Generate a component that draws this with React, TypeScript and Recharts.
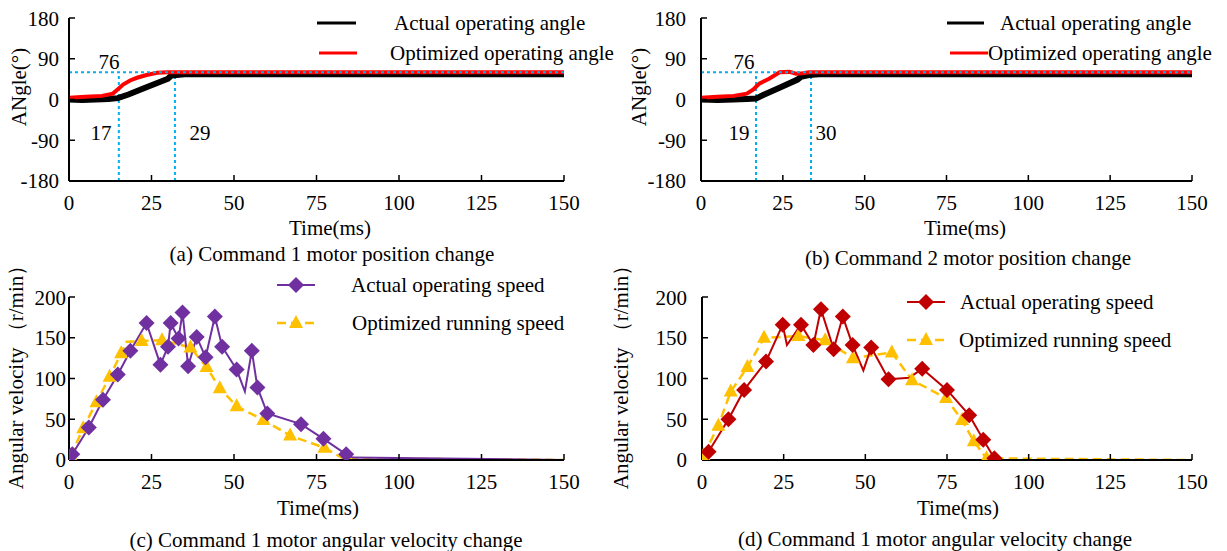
import React from "react";
import { Line, LineChart, ReferenceLine, XAxis, YAxis } from "recharts";

const timeTicks = [0, 25, 50, 75, 100, 125, 150];
const angleTicks = [-180, -90, 0, 90, 180];
const speedTicks = [0, 50, 100, 150, 200];

// (a) command 1 position
const aActualTime = [0, 4, 8, 12, 14.8, 18, 22.7, 30, 31, 35, 150];
const aActualAngle = [0, -1, 0, 1, 3, 11, 25, 46, 53, 56, 56];
const aOptTime = [0, 5, 10, 13.3, 15, 16.4, 18.5, 20.6, 23.5, 26.7, 30, 150];
const aOptAngle = [4, 6, 8, 13, 24, 33, 42, 48, 54, 59, 60, 60];
const aMarks = { level: 60, left: 15.1, right: 32.1, levelText: "76", leftText: "17", rightText: "29" };

// (b) command 2 position
const bActualTime = [0, 5, 10, 14, 16.8, 19, 24, 29.5, 30.5, 33, 36, 150];
const bActualAngle = [0, -1, 0, 1, 2, 10, 26, 44, 50, 54, 56, 56];
const bOptTime = [0, 5, 10, 14, 16, 17.8, 20.8, 24, 27, 29, 31, 33, 150];
const bOptAngle = [4, 6, 8, 13, 22, 35, 46, 60, 61, 57, 58, 60, 60];
const bMarks = { level: 60, left: 16.8, right: 33.6, levelText: "76", leftText: "19", rightText: "30" };

// (c) command 1 angular velocity
const cActualTime = [1, 6, 10.3, 14.8, 18.6, 23.5, 27.7, 30, 30.8, 33.2, 34.4, 36.1, 38.7, 41.4, 44.2, 46.4, 50.8, 53.3, 55.4, 57.1, 60.1, 70.3, 77.1, 84, 86, 150];
const cActualSpeed = [7, 40, 74, 105, 134, 168, 117, 139, 168, 149, 181, 115, 151, 126, 176, 139, 111, 84, 134, 89, 57, 44, 26, 7, 3, 0];
const cActualPlain = [53.3, 86, 150];
const cOptTime = [0.5, 4.3, 8.3, 12.3, 15.8, 17.5, 22, 28.2, 36.8, 41.7, 45.7, 50.8, 58.9, 67, 77.4, 83, 150];
const cOptSpeed = [5, 39, 71, 102, 131, 145, 146, 147, 138, 114, 88, 66, 49, 30, 15, 2, 0];
const cOptPlain = [17.5, 83, 150];

// (d) command 1 angular velocity
const dActualTime = [2, 8.1, 12.9, 19.6, 24.7, 26, 30.3, 34.1, 36.4, 40.3, 43.1, 46.1, 49.4, 51.8, 57.1, 63.5, 67.4, 75, 81.8, 86.1, 89.5, 92, 150];
const dActualSpeed = [10, 50, 86, 121, 166, 141, 166, 141, 185, 136, 176, 141, 110, 138, 99, 101, 112, 86, 55, 25, 2, 0, 0];
const dActualPlain = [26, 49.4, 63.5, 92, 150];
const dOptTime = [0.5, 5, 8.8, 13.9, 19, 29.5, 37.7, 46.2, 58.1, 64.3, 74.7, 79.6, 83.2, 87.1, 150];
const dOptSpeed = [6, 42, 84, 114, 150, 152, 147, 125, 132, 98, 76, 49, 23, 2, 0];
const dOptPlain = [150];

const FONT = "'Liberation Serif', 'Times New Roman', serif";
const BLUE = "#00B0F0";
const ORANGE = "#FFC000";

const pts = (t: number[], v: number[]) => t.map((x, i) => ({ t: x, v: v[i] }));

type Series = {
  data: { t: number; v: number }[];
  color: string;
  width: number;
  dash?: string;
  marker?: "diamond" | "triangle";
  plain?: number[];
};

function marker(kind: string, cx: number, cy: number, fill: string, key?: any) {
  if (kind === "diamond")
    return <polygon key={key} points={`${cx},${cy - 8} ${cx + 8},${cy} ${cx},${cy + 8} ${cx - 8},${cy}`} fill={fill} />;
  return <polygon key={key} points={`${cx},${cy - 8} ${cx + 7},${cy + 5} ${cx - 7},${cy + 5}`} fill={fill} />;
}

type Refs = { level: number; left: number; right: number; levelText: string; leftText: string; rightText: string };

function Panel(props: {
  x0: number; x1: number; yTop: number; yBottom: number;
  domain: [number, number]; yTicks: number[]; yGap: number;
  series: Series[]; refs?: Refs;
}) {
  const { x0, x1, yTop, yBottom, domain, yTicks, yGap, series, refs } = props;
  const ML = 70, MT = 12, MR = 16, MB = 46;
  const w = x1 - x0 + ML + MR;
  const h = yBottom - yTop + MT + MB;
  const tickFont = { fill: "#000", fontSize: 21, fontFamily: FONT };
  const all: Series[] = refs
    ? [...series, { data: pts([0, 150], [refs.level, refs.level]), color: BLUE, width: 2, dash: "3 3" }]
    : series;
  return (
    <div style={{ position: "absolute", left: x0 - ML, top: yTop - MT }}>
      <LineChart width={w} height={h} margin={{ left: 0, top: MT, right: MR, bottom: 0 }}>
        <XAxis
          type="number" dataKey="t" domain={[0, 150]} ticks={timeTicks} height={MB}
          axisLine={{ stroke: "#000", strokeWidth: 2 }} tickLine={{ stroke: "#000", strokeWidth: 1.5 }}
          tickSize={-6} tickMargin={20} tick={tickFont} allowDataOverflow
        />
        <YAxis
          type="number" domain={domain} ticks={yTicks} width={ML}
          axisLine={{ stroke: "#000", strokeWidth: 2 }} tickLine={{ stroke: "#000", strokeWidth: 1.5 }}
          tickSize={-6} tickMargin={6 + yGap} tick={tickFont} allowDataOverflow
        />
        {refs && (
          <ReferenceLine
            segment={[{ x: refs.left, y: domain[0] }, { x: refs.left, y: refs.level }]}
            stroke={BLUE} strokeWidth={2} strokeDasharray="3 3"
          />
        )}
        {refs && (
          <ReferenceLine
            segment={[{ x: refs.right, y: domain[0] }, { x: refs.right, y: refs.level }]}
            stroke={BLUE} strokeWidth={2} strokeDasharray="3 3"
          />
        )}
        {all.map((s, i) => (
          <Line
            key={i} data={s.data} dataKey="v" type="linear" stroke={s.color} strokeWidth={s.width}
            strokeDasharray={s.dash} isAnimationActive={false} legendType="none"
            dot={s.marker ? (p: any) => (s.plain && s.plain.includes(p.payload.t)
              ? <g key={p.index} />
              : marker(s.marker as string, p.cx, p.cy, s.color, p.index)) : false}
            activeDot={false}
          />
        ))}
      </LineChart>
    </div>
  );
}

function Txt({ x, y, children, rotate }: { x: number; y: number; children: React.ReactNode; rotate?: boolean }) {
  return (
    <div
      style={{
        position: "absolute", left: x, top: y, whiteSpace: "nowrap", lineHeight: 1, fontSize: 21,
        transform: `translate(-50%, -50%)${rotate ? " rotate(-90deg)" : ""}`,
      }}
    >
      {children}
    </div>
  );
}

function LegText({ x, y, children }: { x: number; y: number; children: React.ReactNode }) {
  return (
    <div style={{ position: "absolute", left: x, top: y, whiteSpace: "nowrap", lineHeight: 1, fontSize: 21, transform: "translateY(-50%)" }}>
      {children}
    </div>
  );
}

export default function App() {
  const angleA: Series[] = [
    { data: pts(aActualTime, aActualAngle), color: "#000", width: 6 },
    { data: pts(aOptTime, aOptAngle), color: "#FF0000", width: 4 },
  ];
  const angleB: Series[] = [
    { data: pts(bActualTime, bActualAngle), color: "#000", width: 6 },
    { data: pts(bOptTime, bOptAngle), color: "#FF0000", width: 4 },
  ];
  const speedC: Series[] = [
    { data: pts(cOptTime, cOptSpeed), color: ORANGE, width: 2.5, dash: "9 5", marker: "triangle", plain: cOptPlain },
    { data: pts(cActualTime, cActualSpeed), color: "#7030A0", width: 2, marker: "diamond", plain: cActualPlain },
  ];
  const speedD: Series[] = [
    { data: pts(dOptTime, dOptSpeed), color: ORANGE, width: 2.5, dash: "9 5", marker: "triangle", plain: dOptPlain },
    { data: pts(dActualTime, dActualSpeed), color: "#C00000", width: 2, marker: "diamond", plain: dActualPlain },
  ];

  return (
    <div style={{ position: "absolute", left: 0, top: 0, width: 1227, height: 551, background: "#fff", fontFamily: FONT, color: "#000", overflow: "hidden" }}>
      <Panel x0={69} x1={564} yTop={18} yBottom={181} domain={[-180, 180]} yTicks={angleTicks} yGap={10} series={angleA} refs={aMarks} />
      <Panel x0={701} x1={1192} yTop={18} yBottom={181} domain={[-180, 180]} yTicks={angleTicks} yGap={15} series={angleB} refs={bMarks} />
      <Panel x0={69} x1={564} yTop={297} yBottom={460} domain={[0, 200]} yTicks={speedTicks} yGap={3} series={speedC} />
      <Panel x0={702} x1={1192} yTop={297} yBottom={460} domain={[0, 200]} yTicks={speedTicks} yGap={15} series={speedD} />

      <svg width={1227} height={551} style={{ position: "absolute", left: 0, top: 0, pointerEvents: "none" }}>
        <line x1={317} y1={23} x2={356} y2={23} stroke="#000" strokeWidth={3} />
        <line x1={319} y1={53} x2={357} y2={53} stroke="#FF0000" strokeWidth={3} />
        <line x1={947} y1={23} x2={984} y2={23} stroke="#000" strokeWidth={3} />
        <line x1={950} y1={53} x2={988} y2={53} stroke="#FF0000" strokeWidth={3} />
        <line x1={277} y1={285} x2={315} y2={285} stroke="#7030A0" strokeWidth={2} />
        {marker("diamond", 296, 285, "#7030A0")}
        <line x1={277} y1={323} x2={315} y2={323} stroke={ORANGE} strokeWidth={2.5} strokeDasharray="9 5" />
        {marker("triangle", 296, 323, ORANGE)}
        <line x1={907} y1={302} x2={945} y2={302} stroke="#C00000" strokeWidth={2} />
        {marker("diamond", 926, 302, "#C00000")}
        <line x1={907} y1={340} x2={945} y2={340} stroke={ORANGE} strokeWidth={2.5} strokeDasharray="9 5" />
        {marker("triangle", 926, 340, ORANGE)}
      </svg>

      <LegText x={394} y={23}>Actual operating angle</LegText>
      <LegText x={390} y={53}>Optimized operating angle</LegText>
      <LegText x={1000} y={23}>Actual operating angle</LegText>
      <LegText x={988} y={53}>Optimized operating angle</LegText>
      <LegText x={351} y={285}>Actual operating speed</LegText>
      <LegText x={352} y={323}>Optimized running speed</LegText>
      <LegText x={960} y={302}>Actual operating speed</LegText>
      <LegText x={959} y={340}>Optimized running speed</LegText>

      <Txt x={109} y={62}>{aMarks.levelText}</Txt>
      <Txt x={101} y={133}>{aMarks.leftText}</Txt>
      <Txt x={200} y={133}>{aMarks.rightText}</Txt>
      <Txt x={744} y={62}>{bMarks.levelText}</Txt>
      <Txt x={739} y={133}>{bMarks.leftText}</Txt>
      <Txt x={826} y={133}>{bMarks.rightText}</Txt>

      <Txt x={19} y={87} rotate>ANgle(°)</Txt>
      <Txt x={639} y={87} rotate>ANgle(°)</Txt>
      <Txt x={16} y={372} rotate>Angular velocity （r/min）</Txt>
      <Txt x={621} y={372} rotate>Angular velocity （r/min）</Txt>

      <Txt x={330} y={228}>Time(ms)</Txt>
      <Txt x={965} y={228}>Time(ms)</Txt>
      <Txt x={318} y={508}>Time(ms)</Txt>
      <Txt x={958} y={508}>Time(ms)</Txt>

      <Txt x={332} y={254}>(a) Command 1 motor position change</Txt>
      <Txt x={968} y={258}>(b) Command 2 motor position change</Txt>
      <Txt x={326} y={540}>(c) Command 1 motor angular velocity change</Txt>
      <Txt x={935} y={539}>(d) Command 1 motor angular velocity change</Txt>
    </div>
  );
}
